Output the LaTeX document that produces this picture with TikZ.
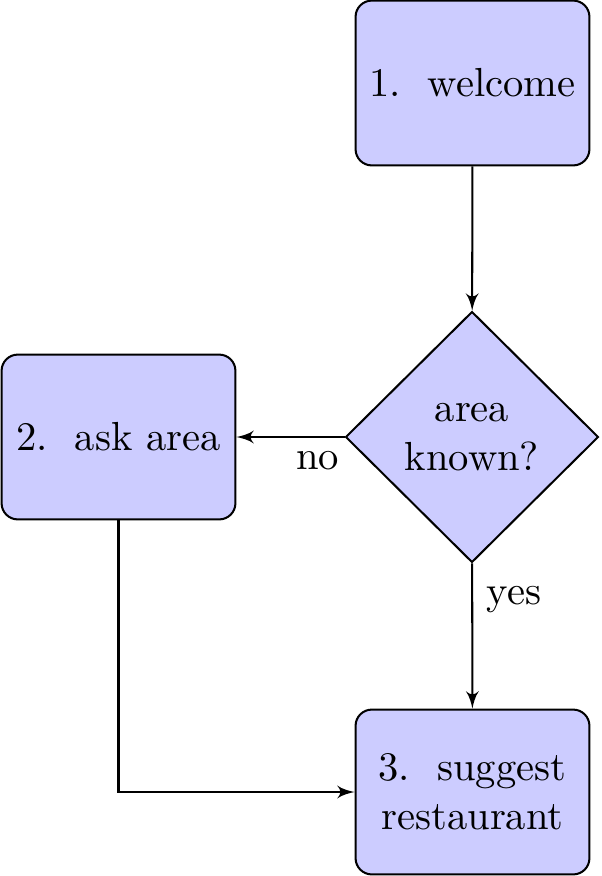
\documentclass[tikz,border=0pt]{standalone}
\usetikzlibrary{shapes.geometric,arrows}
\begin{document}
\begin{tikzpicture}[x=0.2463pt,y=-0.2463pt,line width=0.5pt,
  blockbox/.style={rectangle,draw,fill=blue!20,rounded corners,minimum width=57.6pt,minimum height=40.6pt,text width=56pt,align=center,inner sep=0.5pt},
  decision/.style={diamond,draw,fill=blue!20,minimum width=62.3pt,minimum height=61.8pt,inner sep=0pt,align=center,aspect=1},
  conn/.style={draw,-latex'}]
\useasboundingbox (0,0) rectangle (601,876);
\node[blockbox] (welcome) at (472.5,83) {1.~~welcome};
\node[decision] (known) at (472,437) {area\\known?};
\node[blockbox] (ask) at (118.5,437) {2.~~ask area};
\node[blockbox] (suggest) at (472.5,792) {3.~~suggest\\restaurant};
\draw[conn] (welcome) -- (known);
\draw[conn] (known) -- node[near start,below] {no} (ask);
\draw[conn] (known) -- node[near start,right] {yes} (suggest);
\draw[conn] (ask) |- (suggest);
\end{tikzpicture}
\end{document}
